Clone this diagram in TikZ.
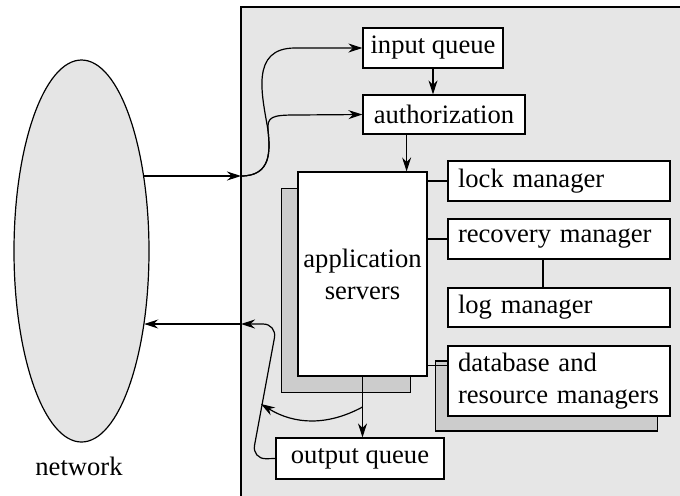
\documentclass[tikz,border=0pt]{standalone}
\usepackage{fontspec}
\setmainfont{Liberation Serif}
\usetikzlibrary{arrows.meta,positioning,shapes.geometric,shadows,calc}
\definecolor{sysfill}{HTML}{E6E6E6}
\definecolor{netfill}{HTML}{E5E5E5}
\definecolor{shade}{HTML}{CCCCCC}

\begin{document}
\begin{tikzpicture}[
  x=0.5pt, y=-0.5pt,
  every node/.style={font=\fontsize{13.3}{16}\selectfont},
  box/.style={draw, fill=white, line width=0.6pt, inner sep=0pt,
     minimum height=20pt, align=center},
  mgr/.style={box, inner xsep=5pt, text width=101pt, align=left},
  arr/.style={-{Stealth[length=7pt,width=4.5pt]}, line width=0.6pt},
  link/.style={line width=0.6pt},
]
\useasboundingbox (0,0) rectangle (680,495);
% --- system area ---
\fill[sysfill] (241,7) rectangle (690,505);
\draw[line width=0.6pt] (241,505) |- (690,7);
% --- network ---
\node[ellipse, draw, fill=netfill, line width=0.6pt, inner sep=0pt,
  minimum width=67.5pt, minimum height=191pt] (net) at (81.5,251) {};
\node (netlbl) at (79,466) {network};
% --- queues ---
\node[box, minimum width=70pt] (inq) at (433,48) {input queue};
\node[box, minimum width=81pt, minimum height=19.5pt] (auth) at (444,114.5) {authorization};
\node[box, minimum width=84pt, minimum height=20.5pt] (outq) at (360,458.5) {output queue};
% --- servers ---
\node[box, minimum width=64.5pt, minimum height=102pt,
  copy shadow={shadow xshift=-8.25pt, shadow yshift=-8.25pt, fill=shade, draw=black, line width=0.6pt}]
  (app) at (362.5,274) {application\\servers};
% --- managers ---
\node[mgr] (lock) at (559,181) {lock manager};
\node[mgr] (rec)  at (559,239) {recovery manager};
\node[mgr, minimum height=19.5pt] (log) at (559,307.5) {log manager};
\node[mgr, minimum height=35pt,
  copy shadow={shadow xshift=-6.25pt, shadow yshift=-7.5pt, fill=shade, draw=black, line width=0.6pt}]
  (db) at (559,381) {database and\\resource managers};
% --- coordinates ---
\coordinate (gin)  at (241,176);
\coordinate (gout) at (241,324);
\coordinate (ret)  at (261,404);
\coordinate (tap)  at ($(app.south)!0.5!(app.south |- outq.north)$);
% --- network in ---
\draw[arr] (gin -| net.50) -- (gin);
\draw[arr] (gin) .. controls (272,176) and (270,150) .. (268,130)
  .. controls (262,95) and (250,48) .. (295,48) -- (inq.west);
\draw[arr] (gin) .. controls (272,176) and (270,150) .. (268,130)
  .. controls (267,117) and (272,115) .. (295,115) -- (auth.west);
\draw[arr] (inq.south) -- (inq.south |- auth.north);
\draw[arr] ([xshift=-10.5pt]app.north east |- auth.south) -- ([xshift=-10.5pt]app.north east);
% --- managers links ---
\draw[link] (lock.west -| app.east) -- (lock.west);
\draw[link] (rec.west -| app.east) -- (rec.west);
\draw[link] ([yshift=-10pt]db.north west -| app.east) -- ([yshift=-10pt]db.north west);
\draw[link] ([xshift=-8pt]rec.south) -- ([xshift=-8pt]log.north);
% --- network out ---
\draw[arr] (app.south) -- (app.south |- outq.north);
\draw[arr] (tap) to[bend left=30] (ret);
\draw[arr, rounded corners=7pt] (outq.west) -- (252,459) -- (277,324) -- (gout);
\draw[arr] (gout) -- (gout -| net.-50);
\end{tikzpicture}
\end{document}
